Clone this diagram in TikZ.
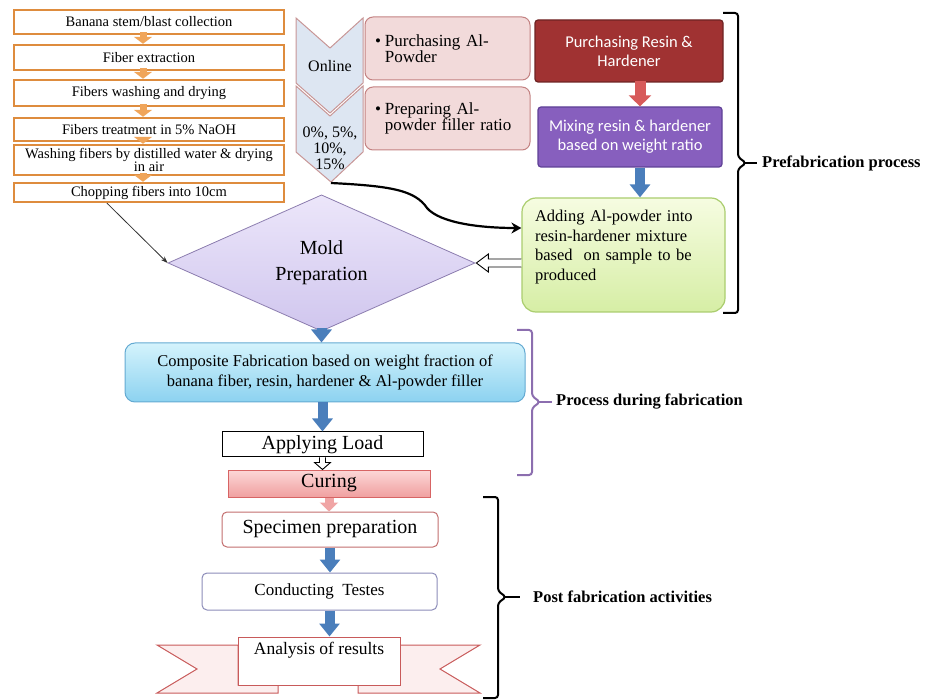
\documentclass[tikz,border=0pt]{standalone}
\usepackage{fontspec}
\setmainfont{Liberation Serif}
\newfontfamily\calibrifont{Carlito}
\usetikzlibrary{arrows.meta,shapes.geometric,calc}

\definecolor{fiberline}{RGB}{222,140,62}
\definecolor{fiberfill}{RGB}{240,165,90}
\definecolor{chevfill}{RGB}{221,230,242}
\definecolor{chevline}{RGB}{200,150,150}
\definecolor{pinkfill}{RGB}{242,218,218}
\definecolor{pinkline}{RGB}{195,130,130}
\definecolor{resinfill}{RGB}{160,50,50}
\definecolor{resinline}{RGB}{110,35,35}
\definecolor{mixfill}{RGB}{135,95,190}
\definecolor{mixline}{RGB}{95,65,150}
\definecolor{greentop}{RGB}{246,252,225}
\definecolor{greenbot}{RGB}{214,238,165}
\definecolor{greenline}{RGB}{170,205,110}
\definecolor{moldtop}{RGB}{236,230,250}
\definecolor{moldbot}{RGB}{208,198,238}
\definecolor{moldline}{RGB}{140,125,175}
\definecolor{comptop}{RGB}{212,243,252}
\definecolor{compbot}{RGB}{140,210,240}
\definecolor{compline}{RGB}{100,170,210}
\definecolor{arrowblue}{RGB}{74,126,187}
\definecolor{curetop}{RGB}{252,215,215}
\definecolor{curebot}{RGB}{240,160,160}
\definecolor{cureline}{RGB}{215,100,100}
\definecolor{specline}{RGB}{195,110,110}
\definecolor{testline}{RGB}{140,140,185}
\definecolor{ribbonline}{RGB}{200,90,90}
\definecolor{ribbonfill}{RGB}{252,238,238}
\definecolor{redarrow}{RGB}{215,90,90}
\definecolor{pinkarrow}{RGB}{240,165,165}
\definecolor{purplebrace}{RGB}{140,110,175}

\newcommand{\bulletline}[1]{\textbullet\hspace{4pt}\parbox[t]{130pt}{#1}}

\begin{document}
\begin{tikzpicture}[
    x=1pt, y=-1pt,
    fiberbox/.style={rectangle, draw=fiberline, line width=2.4pt, fill=white, minimum width=270pt, inner sep=0pt, align=center, font=\fontsize{14.5}{13.5}\selectfont},
    chevron/.style={draw=chevline, line width=1pt, fill=chevfill},
    chevtext/.style={align=center, inner sep=0pt, font=\fontsize{16}{16}\selectfont},
    powderbox/.style={rectangle, draw=pinkline, line width=1pt, fill=pinkfill, rounded corners=8pt, minimum width=165pt, minimum height=63pt, text width=145pt, inner xsep=10pt, align=left, font=\fontsize{17}{16}\selectfont},
    resinbox/.style={rectangle, draw=resinline, line width=1.2pt, fill=resinfill, rounded corners=3pt, minimum width=188pt, minimum height=62pt, align=center, text=white, font=\calibrifont\fontsize{16.5}{19}\selectfont},
    mixbox/.style={resinbox, draw=mixline, fill=mixfill, minimum width=184pt, minimum height=60pt},
    greenbox/.style={rectangle, draw=greenline, line width=1.2pt, top color=greentop, bottom color=greenbot, rounded corners=14pt, minimum width=203pt, minimum height=114pt, text width=177pt, inner xsep=13pt, align=left, font=\fontsize{16.5}{19.5}\selectfont},
    moldshape/.style={diamond, draw=moldline, line width=0.8pt, top color=moldtop, bottom color=moldbot, minimum width=307pt, minimum height=101pt, inner sep=0pt, align=center, font=\fontsize{20}{26}\selectfont},
    compbox/.style={rectangle, draw=compline, line width=1pt, top color=comptop, bottom color=compbot, rounded corners=10pt, minimum width=400pt, minimum height=59pt, align=center, font=\fontsize{16.5}{20}\selectfont},
    loadbox/.style={rectangle, draw=black, line width=1pt, fill=white, minimum width=201pt, minimum height=25pt, inner sep=0pt, font=\fontsize{20}{22}\selectfont},
    curebox/.style={rectangle, draw=cureline, line width=1pt, top color=curetop, bottom color=curebot, minimum width=202pt, minimum height=27pt, inner sep=0pt, font=\fontsize{20}{22}\selectfont},
    specbox/.style={rectangle, draw=specline, line width=1pt, fill=white, rounded corners=5pt, minimum width=216pt, minimum height=35pt, inner sep=0pt, font=\fontsize{20}{22}\selectfont},
    testbox/.style={specbox, draw=testline, minimum width=235pt, minimum height=37pt, font=\fontsize{17}{20}\selectfont},
    bannerbox/.style={rectangle, draw=ribbonline, line width=1pt, fill=white, minimum width=162pt, minimum height=48pt, inner sep=0pt, text height=14pt, text depth=28pt, font=\fontsize{17.5}{20}\selectfont},
    ribbon/.style={draw=ribbonline, line width=1pt, fill=ribbonfill},
    brace/.style={line width=2pt, rounded corners=3pt},
    grouplabel/.style={anchor=west, inner sep=0pt, font=\bfseries\fontsize{16.5}{18}\selectfont},
    fiberarrow/.style={draw=fiberfill, line width=7pt, -{Triangle[width=18pt,length=7pt]}},
    bluearrow/.style={draw=arrowblue, line width=10pt, -{Triangle[width=20pt,length=13pt]}},
    redarrow/.style={draw=redarrow, line width=11pt, -{Triangle[width=22pt,length=11pt]}},
    pinkarrow/.style={draw=pinkarrow, line width=9pt, -{Triangle[width=18pt,length=9pt]}},
    hollowarrow/.style={draw=black, line width=0.9pt, fill=white, line join=miter},
    thinarrow/.style={draw=black!80, line width=0.8pt, -{Stealth[length=7pt,width=5pt]}},
    curvearrow/.style={draw=black, line width=2.2pt, -{Stealth[length=10pt,width=11pt]}}
]
\useasboundingbox (0,0) rectangle (932,700);

% Fiber preparation (left column)
\node[fiberbox, minimum height=24pt] (collect) at (149,22) {Banana stem/blast collection};
\node[fiberbox, minimum height=25pt] (extract) at (149,57.5) {Fiber extraction};
\node[fiberbox, minimum height=26pt] (wash) at (149,93) {Fibers washing and drying};
\node[fiberbox, minimum height=23pt] (treat) at (149,129.5) {Fibers treatment in 5\% NaOH};
\node[fiberbox, minimum height=30pt] (rinse) at (149,160) {Washing fibers by distilled water \& drying\\in air};
\node[fiberbox, minimum height=19pt] (chop) at (149,192.5) {Chopping fibers into 10cm};

% Al-powder chevrons
\filldraw[chevron] (296,18) -- (330,48) -- (363,18) -- (363,83) -- (330,113) -- (296,83) -- cycle;
\filldraw[chevron] (296,86) -- (330,116) -- (363,86) -- (363,152) -- (331,182) -- (296,152) -- cycle;
\node[chevtext] (online) at (330,66) {Online};
\node[chevtext] (ratio) at (330,148) {0\%, 5\%,\\10\%,\\15\%};
\coordinate (chevtip) at (331,183);

\node[powderbox] (buyal) at (447.5,48.5) {\bulletline{Purchasing Al-\\Powder}};
\node[powderbox] (prepal) at (447.5,118.5) {\bulletline{Preparing Al-\\powder filler ratio}};

% Resin and hardener
\node[resinbox] (resin) at (629,51) {Purchasing Resin \&\\Hardener};
\node[mixbox] (mix) at (630,137) {Mixing resin \& hardener\\based on weight ratio};
\node[greenbox] (addal) at (623.5,255) {Adding Al-powder into\\resin-hardener mixture\\based\ \ on sample to be\\produced\\\mbox{}};

% Mold and fabrication
\node[moldshape] (mold) at (321.5,263) {Mold\\Preparation};
\node[compbox] (comp) at (325,372.5) {Composite Fabrication based on weight fraction of\\banana fiber, resin, hardener \& Al-powder filler};
\node[loadbox] (load) at (322.5,444.5) {Applying Load};
\node[curebox] (curing) at (329,483.5) {Curing};

% Post fabrication
\node[specbox] (spec) at (330,529.5) {Specimen preparation};
\node[testbox] (test) at (319.5,591.5) {Conducting\ \ Testes};
\filldraw[ribbon] (238,645) -- (157,645) -- (197,669) -- (157,693) -- (278,693) -- (278,685) -- (238,685) -- cycle;
\filldraw[ribbon] (400,645) -- (480,645) -- (440,669) -- (480,693) -- (358,693) -- (358,685) -- (400,685) -- cycle;
\node[bannerbox] (banner) at (319,661) {Analysis of results};

% Braces
\draw[brace] (723,13) -- (738,13) -- (738,157) -- (746,163) -- (738,169) -- (738,313) -- (723,313);
\draw[line width=2pt] (745,163) -- (757,163);
\node[grouplabel] (prefab) at (762,163) {Prefabrication process};
\draw[brace, purplebrace] (517,330) -- (532,330) -- (532,396) -- (540,402) -- (532,408) -- (532,475) -- (517,475);
\draw[line width=2pt, purplebrace] (539,402) -- (552,402);
\node[grouplabel] (during) at (556,402) {Process during fabrication};
\draw[brace] (483,497) -- (498,497) -- (498,591) -- (506,597) -- (498,603) -- (498,698) -- (483,698);
\draw[line width=2pt] (505,597) -- (520,597);
\node[grouplabel] (post) at (533,597) {Post fabrication activities};

% Arrows
\foreach \a/\b in {collect/extract, extract/wash, wash/treat, treat/rinse, rinse/chop}
    \draw[fiberarrow] ([xshift=-6pt,yshift=3pt]\a.south) -- ([xshift=-6pt]\a.south |- \b.north);
\draw[thinarrow] ([xshift=-42pt]chop.south) -- (mold.west);
\draw[curvearrow] (chevtip) .. controls (390,186) and (415,190) .. (427,208) .. controls (440,223) and (480,228) .. ([yshift=27pt]addal.west);
\draw[redarrow] ([xshift=11pt,yshift=2pt]resin.south) -- ([xshift=11pt]resin.south |- mix.north);
\draw[bluearrow] ([xshift=10pt]mix.south) -- ([xshift=10pt]mix.south |- addal.north);
\draw[hollowarrow] let \p1=(addal.west |- mold.east), \p2=(mold.east) in
    (\x1,\y1+4pt) -- (\x2+13pt,\y1+4pt) -- (\x2+13pt,\y1+9pt) -- (\x2+1pt,\y1)
    -- (\x2+13pt,\y1-9pt) -- (\x2+13pt,\y1-4pt) -- (\x1,\y1-4pt);
\draw[bluearrow] ([yshift=4pt]mold.south) -- (mold.south |- comp.north);
\draw[bluearrow] (load.north |- comp.south) -- (load.north);
\draw[hollowarrow] let \p1=(load.south), \p2=(load.south |- curing.north) in
    (\x1-3pt,\y1) -- (\x1-3pt,\y2+7pt) -- (\x1-8pt,\y2+7pt) -- (\x1,\y2)
    -- (\x1+8pt,\y2+7pt) -- (\x1+3pt,\y2+7pt) -- (\x1+3pt,\y1);
\draw[pinkarrow] (curing.south) -- (curing.south |- spec.north);
\draw[bluearrow] (spec.south) -- (spec.south |- test.north);
\draw[bluearrow] ([xshift=10pt]test.south) -- ([xshift=10pt]test.south |- banner.north);

\end{tikzpicture}
\end{document}
